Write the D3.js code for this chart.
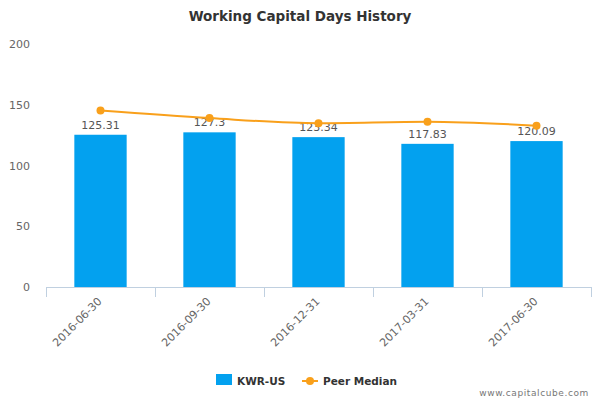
<!DOCTYPE html>
<html><head><meta charset="utf-8">
<script src="https://cdn.jsdelivr.net/npm/d3@7"></script>
<style>body{margin:0;background:#fff}svg{font-family:"DejaVu Sans",Verdana,sans-serif}</style>
</head><body><svg id="c" width="600" height="400"></svg>
<script>
const categories = ["2016-06-30","2016-09-30","2016-12-31","2017-03-31","2017-06-30"];
const companyValues = [125.31,127.3,123.34,117.83,120.09];
const companyLabels = ["125.31","127.3","123.34","117.83","120.09"];
const peerMedian = [145.2,139.0,134.8,136.0,132.8];
const yTicks = [0,50,100,150,200];
const seriesNames = ["KWR-US","Peer Median"];

const svg = d3.select("#c");
const L = 46, R = 591, T = 44, B = 287;
const x = d3.scaleBand().domain(categories).range([L,R]).paddingInner(0.52).paddingOuter(0.26);
const xb = d3.scaleBand().domain(categories).range([L,R]);
const y = d3.scaleLinear().domain([0,200]).range([B,T]);
const blue = "#03a1ef", orange = "#f9a01b";

svg.append("text").attr("x",300).attr("y",21).attr("text-anchor","middle")
  .attr("font-size",13.5).attr("font-weight","bold").attr("fill","#333").text("Working Capital Days History");

svg.selectAll(".yt").data(yTicks).join("text").attr("x",30).attr("y",d=>y(d)+4)
  .attr("text-anchor","end").attr("font-size",11).attr("fill","#666").text(d=>d);

svg.selectAll(".bar").data(companyValues).join("rect")
  .attr("x",(d,i)=>x(categories[i])).attr("width",x.bandwidth())
  .attr("y",d=>y(d)).attr("height",d=>B-y(d)).attr("fill",blue);

const ax = svg.append("g");
ax.append("line").attr("x1",L).attr("x2",R).attr("y1",B+0.5).attr("y2",B+0.5).attr("stroke","#c0d0e0");
const tickXs = categories.map(c=>xb(c)).concat([R]);
ax.selectAll(".tk").data(tickXs).join("line").attr("x1",d=>Math.round(d)+0.5).attr("x2",d=>Math.round(d)+0.5)
  .attr("y1",B).attr("y2",B+10).attr("stroke","#c0d0e0");
ax.selectAll(".xl").data(categories).join("text")
  .attr("transform",d=>`translate(${xb(d)+xb.bandwidth()/2+2},${B+15}) rotate(-45)`)
  .attr("text-anchor","end").attr("font-size",11).attr("fill","#666").text(d=>d);

svg.selectAll(".vl").data(companyValues).join("text")
  .attr("x",(d,i)=>xb(categories[i])+xb.bandwidth()/2).attr("y",d=>y(d)-6)
  .attr("text-anchor","middle").attr("font-size",11).attr("fill","#555").text((d,i)=>companyLabels[i]);

const pts = peerMedian.map((v,i)=>[xb(categories[i])+xb.bandwidth()/2, y(v)]);
svg.append("path").attr("d",d3.line().curve(d3.curveMonotoneX)(pts))
  .attr("fill","none").attr("stroke",orange).attr("stroke-width",2);
svg.selectAll(".pt").data(pts).join("circle").attr("cx",d=>d[0]).attr("cy",d=>d[1]).attr("r",4).attr("fill",orange);

svg.append("rect").attr("x",216).attr("y",374).attr("width",16).attr("height",11).attr("fill",blue);
svg.append("text").attr("x",237).attr("y",384.5).attr("font-size",10.5).attr("font-weight","bold").attr("fill","#333").text(seriesNames[0]);
svg.append("line").attr("x1",302).attr("x2",318).attr("y1",381).attr("y2",381).attr("stroke",orange).attr("stroke-width",2);
svg.append("circle").attr("cx",310).attr("cy",381).attr("r",4).attr("fill",orange);
svg.append("text").attr("x",323).attr("y",384.5).attr("font-size",10.5).attr("font-weight","bold").attr("fill","#333").text(seriesNames[1]);

svg.append("text").attr("x",589).attr("y",396).attr("text-anchor","end").attr("font-size",9).attr("fill","#777")
  .attr("letter-spacing",0.6).text("www.capitalcube.com");
</script></body></html>
